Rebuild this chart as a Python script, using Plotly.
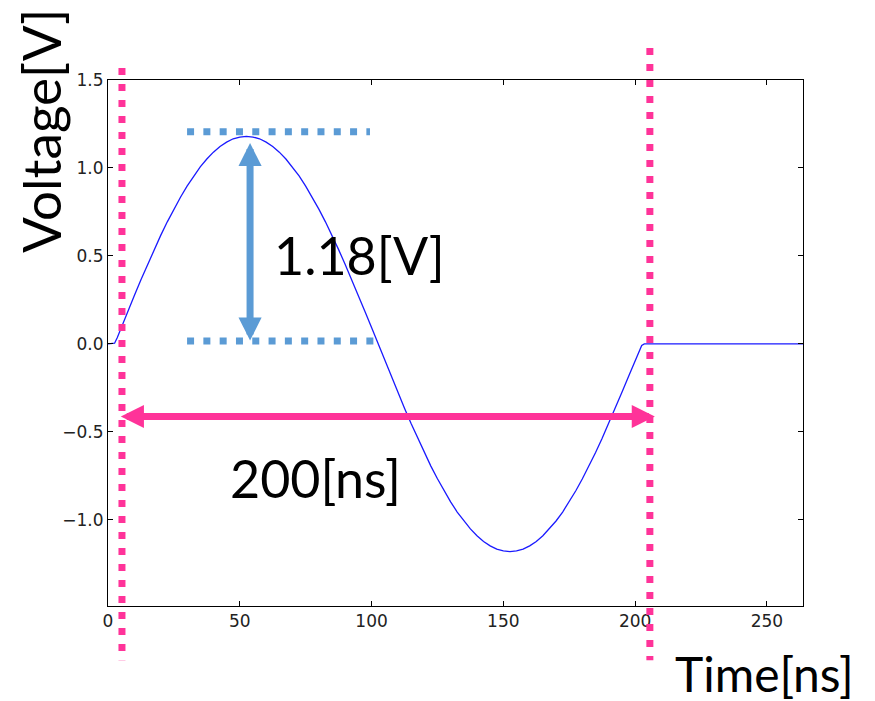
import plotly.graph_objects as go

# ---------------- data ----------------
time_ns = [0.0, 1.5, 2.5, 3.5,
           5.0, 7.5, 10.0, 12.5, 15.0, 17.5, 20.0, 22.5, 25.0, 27.5,
           30.0, 32.5, 35.0, 37.5, 40.0, 42.5, 45.0, 47.5, 50.0, 52.5,
           55.0, 57.5, 60.0, 62.5, 65.0, 67.5, 70.0, 72.5, 75.0, 77.5,
           80.0, 82.5, 85.0, 87.5, 90.0, 92.5, 95.0, 97.5, 100.0, 102.5,
           105.0, 107.5, 110.0, 112.5, 115.0, 117.5, 120.0, 122.5, 125.0, 127.5,
           130.0, 132.5, 135.0, 137.5, 140.0, 142.5, 145.0, 147.5, 150.0, 152.5,
           155.0, 157.5, 160.0, 162.5, 165.0, 167.5, 170.0, 172.5, 175.0, 177.5,
           180.0, 182.5, 185.0, 187.5, 190.0, 192.5, 195.0, 197.5, 200.0,
           201.5, 202.5, 203.5, 230.0, 264.0]

voltage_v = [0.0, 0.0, 0.004, 0.035,
             0.093, 0.185, 0.275, 0.365, 0.452, 0.536, 0.617, 0.694, 0.766, 0.834,
             0.897, 0.955, 1.006, 1.051, 1.090, 1.122, 1.147, 1.166, 1.176, 1.180,
             1.176, 1.166, 1.147, 1.122, 1.090, 1.051, 1.006, 0.955, 0.897, 0.834,
             0.766, 0.694, 0.617, 0.536, 0.452, 0.365, 0.275, 0.185, 0.093, 0.000,
             -0.093, -0.185, -0.275, -0.365, -0.452, -0.536, -0.617, -0.694, -0.766, -0.834,
             -0.897, -0.955, -1.006, -1.051, -1.090, -1.122, -1.147, -1.166, -1.176, -1.180,
             -1.176, -1.166, -1.147, -1.122, -1.090, -1.051, -1.006, -0.955, -0.897, -0.834,
             -0.766, -0.694, -0.617, -0.536, -0.452, -0.365, -0.275, -0.185, -0.093,
             -0.038, -0.008, 0.0, 0.0, 0.0]

x_ticks = [0, 50, 100, 150, 200, 250]
y_ticks = [-1.0, -0.5, 0.0, 0.5, 1.0, 1.5]

period_marks_ns = [5.3, 205.6]        # pink dotted verticals
period_arrow_ns = [4.3, 207.5]        # pink double arrow ends
period_arrow_v = -0.412
amp_levels_v = [0.017, 1.206]         # blue dotted horizontals
amp_level_span_ns = [[30.0, 104.0], [30.0, 99.4]]
amp_arrow_ns = 53.9
amp_arrow_v = [0.011, 1.142]
amp_label = "1.18[V]"
period_label = "200[ns]"

assert len(time_ns) == len(voltage_v)

PINK = "#FF3399"
LBLUE = "#5B9BD5"
TXT_FONT = "Lato"

fig = go.Figure()
fig.add_trace(go.Scatter(x=time_ns, y=voltage_v, mode="lines",
                         line=dict(color="#1a1aff", width=1.3),
                         hoverinfo="skip", showlegend=False))

shapes = []
for t, top in zip(period_marks_ns, [1.023, 1.061]):
    shapes.append(dict(type="line", xref="x", yref="paper",
                       x0=t, x1=t, y0=top, y1=-0.103,
                       line=dict(color=PINK, width=7, dash="7px,9px"),
                       layer="above"))
for lv, span in zip(amp_levels_v, amp_level_span_ns):
    shapes.append(dict(type="line", xref="x", yref="y",
                       x0=span[0], x1=span[1], y0=lv, y1=lv,
                       line=dict(color=LBLUE, width=7, dash="7px,9.3px"),
                       layer="above"))

annotations = []
annotations.append(dict(x=amp_arrow_ns, y=amp_arrow_v[1], ax=amp_arrow_ns, ay=amp_arrow_v[0],
                        xref="x", yref="y", axref="x", ayref="y", text="",
                        showarrow=True, arrowside="end+start",
                        arrowhead=2, startarrowhead=2,
                        arrowsize=0.66, startarrowsize=0.66,
                        arrowwidth=7, arrowcolor=LBLUE,
                        standoff=0, startstandoff=0))
annotations.append(dict(x=period_arrow_ns[1], y=period_arrow_v,
                        ax=period_arrow_ns[0], ay=period_arrow_v,
                        xref="x", yref="y", axref="x", ayref="y", text="",
                        showarrow=True, arrowside="end+start",
                        arrowhead=2, startarrowhead=2,
                        arrowsize=0.66, startarrowsize=0.66,
                        arrowwidth=7, arrowcolor=PINK,
                        standoff=0, startstandoff=0))
annotations.append(dict(x=95.6, y=0.506, xref="x", yref="y", text=amp_label,
                        showarrow=False, xanchor="center", yanchor="middle",
                        font=dict(family=TXT_FONT, size=52, color="black")))
annotations.append(dict(x=78.9, y=-0.761, xref="x", yref="y", text=period_label,
                        showarrow=False, xanchor="center", yanchor="middle",
                        font=dict(family=TXT_FONT, size=52, color="black")))
annotations.append(dict(x=-0.098, y=0.903, xref="paper", yref="paper", text="Voltage[V]",
                        showarrow=False, textangle=-90, xanchor="center", yanchor="middle",
                        font=dict(family=TXT_FONT, size=53, color="black")))
annotations.append(dict(x=0.945, y=-0.128, xref="paper", yref="paper", text="Time[ns]",
                        showarrow=False, xanchor="center", yanchor="middle",
                        font=dict(family=TXT_FONT, size=48, color="black")))

axis_common = dict(showgrid=False, zeroline=False, showline=True, linecolor="black",
                   linewidth=1, mirror="ticks", ticks="inside", ticklen=5,
                   tickcolor="black", tickwidth=1,
                   tickfont=dict(family="DejaVu Sans", size=17, color="#222222"))

fig.update_layout(
    width=875, height=701,
    margin=dict(l=108, r=72, t=80, b=95),
    paper_bgcolor="white", plot_bgcolor="white",
    showlegend=False,
    shapes=shapes, annotations=annotations,
    xaxis=dict(range=[0, 263.7], tickvals=x_ticks, ticktext=[str(v) for v in x_ticks],
               **axis_common),
    yaxis=dict(range=[-1.489, 1.5], tickvals=y_ticks, tickformat=".1f",
               **axis_common),
)

fig.write_html("out.html")
